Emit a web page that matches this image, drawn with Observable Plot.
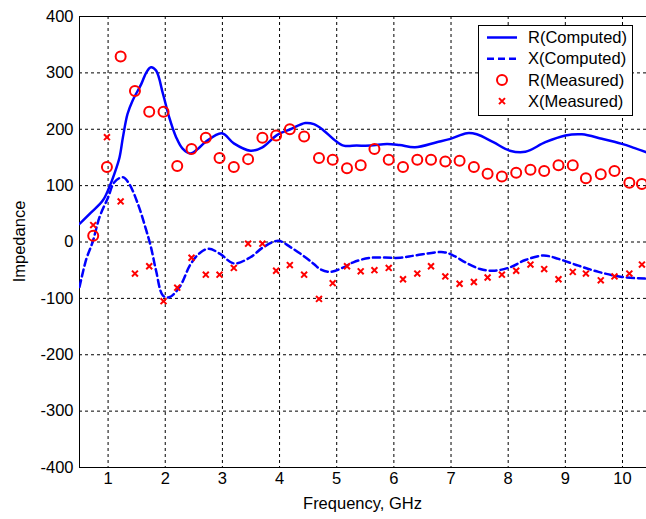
<!DOCTYPE html>
<html><head><meta charset="utf-8">
<script src="https://cdn.jsdelivr.net/npm/d3@7"></script>
<script src="https://cdn.jsdelivr.net/npm/@observablehq/plot@0.6"></script>
<style>body{margin:0;background:#fff} #chart{width:646px;height:519px}</style>
</head><body><div id="chart"></div>
<script>
const xTicks = [1,2,3,4,5,6,7,8,9,10];
const yTicks = [-400,-300,-200,-100,0,100,200,300,400];

const rCompFreq = [0.5,0.7,0.91,1.02,1.11,1.2,1.26,1.34,1.43,1.58,1.67,1.75,1.84,1.96,2.07,2.19,2.3,2.44,2.58,2.7,2.99,3.2,3.49,3.7,3.96,4.19,4.45,4.6,4.77,4.95,5.12,5.35,5.59,5.88,6.1,6.37,6.75,6.99,7.28,7.45,7.74,8.03,8.3,8.65,9.0,9.29,9.64,9.99,10.2,10.42];
const rCompVal  = [32,52,74,97,121,150,186,227,251,280,301,310,304,263,221,186,166,157,166,177,193,175,162,168,190,200,211,209,198,182,171,171,171,174,172,168,177,183,193,191,177,162,160,177,189,191,183,174,167,159];

const xCompFreq = [0.5,0.62,0.73,0.85,1.0,1.11,1.26,1.37,1.52,1.67,1.75,1.84,1.96,2.07,2.25,2.44,2.6,2.76,2.96,3.2,3.49,3.72,3.98,4.19,4.45,4.6,4.71,4.89,5.12,5.29,5.59,6.11,6.37,6.87,7.04,7.25,7.51,7.74,8.03,8.3,8.62,8.88,9.23,9.58,9.99,10.41];
const xCompVal  = [-80,-30,0,44,79,106,115,103,68,20,-9,-51,-95,-98,-80,-40,-20,-12,-21,-38,-27,-9,2,-9,-27,-39,-48,-53,-45,-36,-28,-28,-24,-18,-24,-36,-48,-51,-45,-32,-24,-30,-42,-53,-62,-65];

const measFreq = [0.74,0.98,1.22,1.47,1.72,1.97,2.21,2.46,2.71,2.95,3.20,3.45,3.70,3.94,4.18,4.43,4.69,4.93,5.18,5.42,5.66,5.91,6.16,6.41,6.65,6.90,7.15,7.40,7.64,7.89,8.14,8.39,8.63,8.88,9.13,9.36,9.62,9.86,10.12,10.34];
const rMeasVal = [11,133,329,268,231,231,135,165,185,149,133,147,185,189,200,187,149,146,131,136,165,146,133,146,146,143,144,133,121,116,123,128,126,136,136,113,120,126,105,103];
const xMeasVal = [30,186,72,-56,-43,-105,-81,-28,-58,-58,-46,-3,-3,-51,-41,-58,-101,-73,-43,-52,-50,-46,-66,-56,-43,-61,-74,-71,-63,-58,-51,-40,-48,-66,-53,-56,-68,-61,-56,-40];

const legendLabels = ["R(Computed)","X(Computed)","R(Measured)","X(Measured)"];
const xLabel = "Frequency, GHz";
const yLabel = "Impedance";

const rComp = rCompFreq.map((f,i)=>({f, v:rCompVal[i]}));
const xComp = xCompFreq.map((f,i)=>({f, v:xCompVal[i]}));
const rMeas = measFreq.map((f,i)=>({f, v:rMeasVal[i]}));
const xMeas = measFreq.map((f,i)=>({f, v:xMeasVal[i]}));

const BLUE = "#0000ff", RED = "#ff0000";
const W = 646, H = 519, ML = 79, MR = 0, MT = 16, MB = 52;
const FS = 16.5;
const font = "'Liberation Sans', Arial, sans-serif";

const chart = Plot.plot({
  width: W, height: H,
  marginLeft: ML, marginRight: MR, marginTop: MT, marginBottom: MB,
  style: {fontFamily: font, fontSize: FS + "px", color: "#000", background: "#fff"},
  x: {domain: [0.5, 10.42], label: null},
  y: {domain: [-400, 400], label: null},
  marks: [
    Plot.gridX(xTicks, {stroke: "#000", strokeOpacity: 1, strokeWidth: 1, strokeDasharray: "3,3"}),
    Plot.gridY(yTicks.filter(v => v > -400 && v < 400), {stroke: "#000", strokeOpacity: 1, strokeWidth: 1, strokeDasharray: "3,3"}),
    Plot.axisX(xTicks, {tickSize: 0, tickPadding: 5, fontSize: FS, label: null, tickFormat: d => String(d)}),
    Plot.axisY(yTicks, {tickSize: 0, tickPadding: 6, fontSize: FS, label: null, tickFormat: d => String(d)}),
    Plot.ruleX([0.5], {stroke: "#000", strokeWidth: 1}),
    Plot.ruleY([-400, 400], {stroke: "#000", strokeWidth: 1}),
    Plot.line(rComp, {x: "f", y: "v", stroke: BLUE, strokeWidth: 2.5, curve: "catmull-rom", clip: true}),
    Plot.line(xComp, {x: "f", y: "v", stroke: BLUE, strokeWidth: 2.5, strokeDasharray: "7,4", curve: "catmull-rom", clip: true}),
    Plot.dot(rMeas, {x: "f", y: "v", r: 5, stroke: RED, strokeWidth: 2, fill: "none", clip: true}),
    Plot.dot(xMeas, {x: "f", y: "v", r: 2.8, symbol: "times", stroke: RED, strokeWidth: 2, clip: true})
  ]
});
document.getElementById("chart").appendChild(chart);

const svg = d3.select(chart);
// axis titles
svg.append("text").attr("x", (ML + W - MR) / 2).attr("y", 509)
  .attr("text-anchor", "middle").attr("font-family", font).attr("font-size", FS).attr("fill", "#000").text(xLabel);
svg.append("text").attr("transform", `translate(25,${(MT + H - MB) / 2}) rotate(-90)`)
  .attr("text-anchor", "middle").attr("font-family", font).attr("font-size", FS).attr("fill", "#000").text(yLabel);

// legend
const lg = svg.append("g");
lg.append("rect").attr("x", 478.5).attr("y", 25.5).attr("width", 154).attr("height", 90)
  .attr("fill", "#fff").attr("stroke", "#000").attr("stroke-width", 1);
const rowY = i => 37.5 + i * 21.2;
legendLabels.forEach((t, i) => {
  const y = rowY(i);
  if (i === 0 || i === 1) {
    lg.append("line").attr("x1", 487).attr("x2", 517).attr("y1", y).attr("y2", y)
      .attr("stroke", BLUE).attr("stroke-width", 2.5).attr("stroke-dasharray", i === 1 ? "7,4" : null);
  } else if (i === 2) {
    lg.append("circle").attr("cx", 502).attr("cy", y).attr("r", 5).attr("fill", "none").attr("stroke", RED).attr("stroke-width", 2);
  } else {
    lg.append("path").attr("d", `M${499},${y-3}L${505},${y+3}M${505},${y-3}L${499},${y+3}`).attr("stroke", RED).attr("stroke-width", 2);
  }
  lg.append("text").attr("x", 528).attr("y", y).attr("dy", "0.35em").attr("text-anchor", "start")
    .attr("font-family", font).attr("font-size", FS).attr("fill", "#000").text(t);
});
</script>
</body></html>
